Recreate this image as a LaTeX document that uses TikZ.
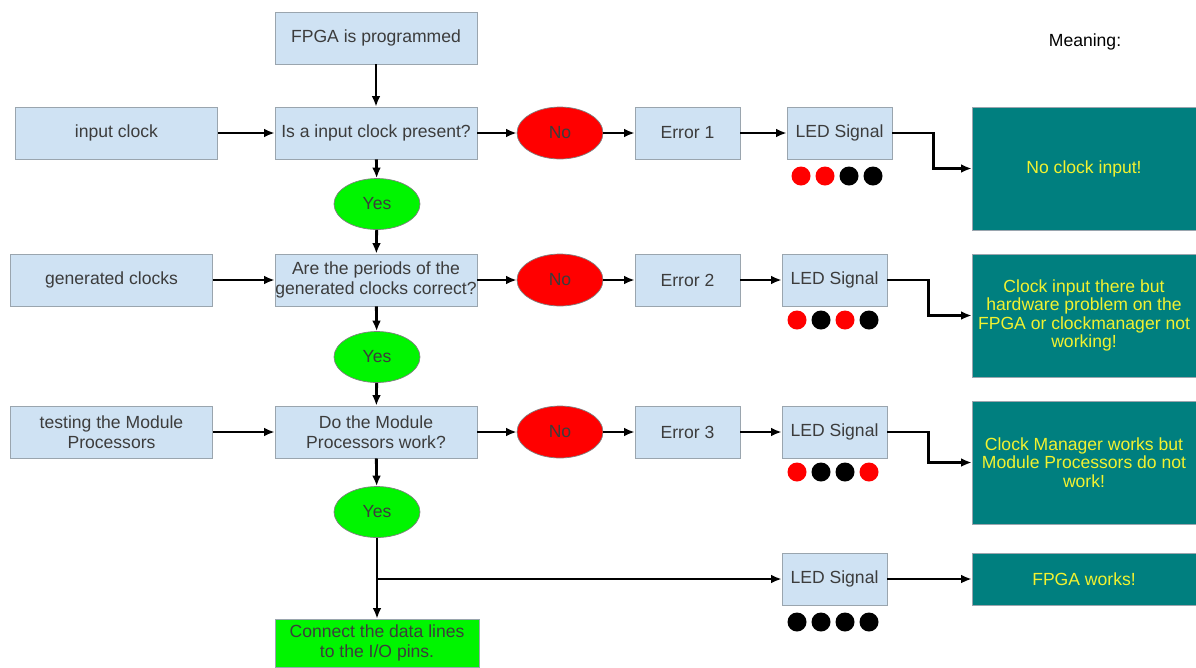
\documentclass[tikz,border=0pt]{standalone}
\usepackage{fontspec}
\setmainfont{Liberation Sans}
\usetikzlibrary{positioning, shapes.geometric, arrows.meta, calc}
\definecolor{boxblue}{HTML}{CFE2F3}
\definecolor{boxedge}{HTML}{9AA5AE}
\definecolor{txtgray}{HTML}{3C3C3C}
\definecolor{meanteal}{HTML}{007F7F}
\definecolor{meanyellow}{HTML}{F2F230}
\definecolor{yesgreen}{HTML}{00F500}
\definecolor{nored}{HTML}{FF0000}

\begin{document}
\begin{tikzpicture}[x=0.02cm, y=-0.02cm,
    font=\fontsize{10}{11.4}\selectfont,
    step box/.style={draw=boxedge, fill=boxblue, text=txtgray, align=center,
      minimum width=4.04cm, minimum height=1.04cm, inner xsep=0pt, inner ysep=2pt},
    small box/.style={step box, minimum width=2.1cm},
    yes node/.style={ellipse, draw=black!50, fill=yesgreen, text=txtgray,
      minimum width=1.72cm, minimum height=1.02cm, inner sep=0pt},
    no node/.style={ellipse, draw=black!50, fill=nored, text=txtgray,
      minimum width=1.72cm, minimum height=1.04cm, inner sep=0pt},
    meaning box/.style={draw=boxedge, fill=meanteal, text=meanyellow,
      align=center, minimum width=4.48cm, inner sep=2pt,
      font=\fontsize{10}{10.5}\selectfont},
    flow/.style={-{Latex[length=6pt, width=5pt]}, line width=1.6pt, black}]

    \useasboundingbox (0,0) rectangle (1196,667);

    % main column
    \node[step box] (prog) at (376,38) {FPGA is programmed};
    \node[step box] (q1) at (376,133) {Is a input clock present?};
    \node[yes node] (yes1) at (377,204) {Yes};
    \node[step box] (q2) at (376,280) {Are the periods of the\\generated clocks correct?};
    \node[yes node] (yes2) at (377,357) {Yes};
    \node[step box] (q3) at (376,432) {Do the Module\\Processors work?};
    \node[yes node] (yes3) at (377,512) {Yes};
    \node[step box, fill=yesgreen, minimum height=0.96cm, minimum width=4.08cm] (conn) at (377,643)
      {Connect the data lines\\to the I/O pins.};

    % inputs on the left
    \node[step box] (inclk) at (116.5,133) {input clock};
    \node[step box] (genclk) at (111.5,280) {generated clocks};
    \node[step box] (modtest) at (111.5,432) {testing the Module\\Processors};

    % error branches
    \node[no node] (no1) at (560,133) {No};
    \node[no node] (no2) at (560,280) {No};
    \node[no node] (no3) at (560,432) {No};
    \node[small box] (err1) at (687.5,133) {Error 1};
    \node[small box] (err2) at (687.5,280) {Error 2};
    \node[small box] (err3) at (687.5,432) {Error 3};
    \node[small box] (led1) at (839.5,133) {LED Signal};
    \node[small box] (led2) at (834.5,280) {LED Signal};
    \node[small box] (led3) at (834.5,432) {LED Signal};
    \node[small box] (led4) at (834.5,579) {LED Signal};

    % meanings
    \node[text=black] (meanhead) at (1085,42) {Meaning:};
    \node[meaning box, minimum height=2.46cm] (mean1) at (1084,168.5) {No clock input!};
    \node[meaning box, minimum height=2.46cm] (mean2) at (1084,315.5)
      {Clock input there but\\hardware problem on the\\FPGA or clockmanager not\\working!};
    \node[meaning box, minimum height=2.46cm] (mean3) at (1084,462.5)
      {Clock Manager works but\\Module Processors do not\\work!};
    \node[meaning box, minimum height=1.04cm] (mean4) at (1084,579) {FPGA works!};

    % LED patterns
    \foreach \dx/\col in {0/nored, 24/nored, 48/black, 72/black}
      \fill[\col] (801+\dx,176) circle (9.5);
    \foreach \dx/\col in {0/nored, 24/black, 48/nored, 72/black}
      \fill[\col] (797+\dx,320) circle (9.5);
    \foreach \dx/\col in {0/nored, 24/black, 48/black, 72/nored}
      \fill[\col] (797+\dx,472) circle (9.5);
    \foreach \dx in {0,24,48,72}
      \fill[black] (797+\dx,622) circle (9.5);

    % connectors
    \draw[flow] (prog) -- (q1);
    \draw[flow] (q1) -- (yes1);
    \draw[flow] (yes1) -- (q2);
    \draw[flow] (q2) -- (yes2);
    \draw[flow] (yes2) -- (q3);
    \draw[flow] (q3) -- (yes3);
    \draw[flow] (yes3) -- (conn);
    \draw[flow] (inclk) -- (q1);
    \draw[flow] (genclk) -- (q2);
    \draw[flow] (modtest) -- (q3);
    \foreach \i in {1,2,3} {
      \draw[flow] (q\i) -- (no\i);
      \draw[flow] (no\i) -- (err\i);
      \draw[flow] (err\i) -- (led\i);
      \draw[flow] (led\i.east) -- ++(41,0) |- (mean\i.west);
    }
    \coordinate (split) at (yes3.south |- led4.west);
    \draw[flow] (split) -- (led4);
    \draw[flow] (led4) -- (mean4);
  \end{tikzpicture}
\end{document}
